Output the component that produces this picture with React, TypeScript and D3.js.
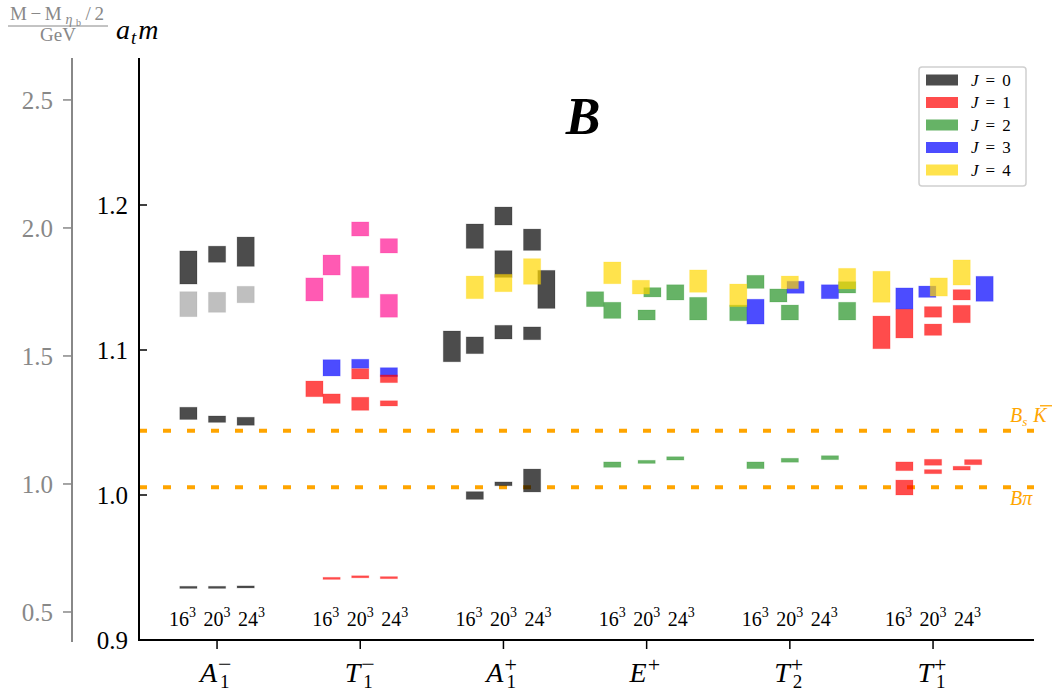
import React from 'react';
import * as d3 from 'd3';

const width = 1061;
const height = 691;

// categories (irreps) along the x axis
const irreps = [
  { base: 'A', sub: '1', sup: '\u2212' },
  { base: 'T', sub: '1', sup: '\u2212' },
  { base: 'A', sub: '1', sup: '+' },
  { base: 'E', sub: '', sup: '+' },
  { base: 'T', sub: '2', sup: '+' },
  { base: 'T', sub: '1', sup: '+' },
];
const volumeLabel = ['16', '20', '24'];

// bars: [irrep index, x offset, low a_t m, high a_t m]
const j0Bars = [
  [0, -0.2, 1.1455, 1.1683], [0, 0, 1.1605, 1.1716], [0, 0.2, 1.1577, 1.1779],
  [0, -0.2, 1.0521, 1.0605], [0, 0, 1.0501, 1.0545], [0, 0.2, 1.0481, 1.0536],
  [0, -0.2, 0.9356, 0.937], [0, 0, 0.9356, 0.937], [0, 0.2, 0.9359, 0.9373],
  [2, -0.2, 1.1701, 1.1869], [2, 0, 1.1862, 1.1986], [2, 0.2, 1.1687, 1.1834],
  [2, 0, 1.1501, 1.1685], [2, 0.3, 1.1287, 1.1549],
  [2, -0.36, 1.0919, 1.1131], [2, -0.2, 1.0975, 1.109], [2, 0, 1.1076, 1.117], [2, 0.2, 1.1071, 1.1159],
  [2, -0.2, 0.997, 1.0023], [2, 0, 1.0064, 1.009], [2, 0.2, 1.0021, 1.0179],
];
const greyBars = [
  [0, -0.2, 1.123, 1.1402], [0, 0, 1.126, 1.1398], [0, 0.2, 1.1326, 1.1439],
];
const pinkBars = [
  [1, -0.32, 1.1338, 1.1497], [1, -0.2, 1.1517, 1.1655], [1, 0, 1.1361, 1.1577],
  [1, 0, 1.1786, 1.1883], [1, 0.2, 1.1669, 1.1768], [1, 0.2, 1.1226, 1.1384],
];
const j1Bars = [
  [1, -0.32, 1.0678, 1.0786], [1, -0.2, 1.0632, 1.0697], [1, 0, 1.08, 1.0871],
  [1, 0, 1.0584, 1.0674], [1, 0.2, 1.0775, 1.0828], [1, 0.2, 1.0614, 1.065],
  [1, -0.2, 0.9418, 0.9432], [1, 0, 0.9429, 0.9443], [1, 0.2, 0.9423, 0.9437],
  [5, -0.36, 1.1009, 1.1234], [5, -0.2, 1.1083, 1.1281], [5, 0, 1.1226, 1.1299],
  [5, 0, 1.1101, 1.1179], [5, 0.2, 1.1345, 1.1416], [5, 0.2, 1.1188, 1.1308],
  [5, -0.2, 1.0168, 1.0228], [5, -0.2, 1.0, 1.0103], [5, 0, 1.0205, 1.0246],
  [5, 0, 1.0147, 1.0175], [5, 0.2, 1.0172, 1.0198], [5, 0.28, 1.0209, 1.0244],
];
const j2Bars = [
  [3, -0.36, 1.1299, 1.1402], [3, -0.24, 1.1218, 1.1329], [3, 0.04, 1.1366, 1.143],
  [3, 0, 1.1207, 1.1276], [3, 0.2, 1.1345, 1.145], [3, 0.36, 1.1207, 1.1363],
  [3, -0.24, 1.0191, 1.0228], [3, 0, 1.0218, 1.0239], [3, 0.2, 1.0241, 1.0264],
  [4, -0.36, 1.1202, 1.131], [4, -0.24, 1.1425, 1.1515], [4, -0.08, 1.1331, 1.1421],
  [4, 0, 1.1207, 1.131], [4, 0.4, 1.1393, 1.1471], [4, 0.4, 1.1207, 1.1329],
  [4, -0.24, 1.0182, 1.0228], [4, 0, 1.0226, 1.0253], [4, 0.28, 1.0244, 1.0271],
];
const j3Bars = [
  [1, -0.2, 1.0821, 1.0933], [1, 0, 1.0874, 1.0936], [1, 0.2, 1.0816, 1.0878],
  [4, -0.24, 1.1179, 1.135], [4, 0.04, 1.1391, 1.1474], [4, 0.28, 1.1354, 1.145],
  [5, -0.2, 1.1281, 1.1428], [5, -0.04, 1.1363, 1.1441], [5, 0.36, 1.1336, 1.1508],
];
const j4Bars = [
  [2, -0.2, 1.1354, 1.151], [2, 0, 1.1402, 1.1522], [2, 0.2, 1.1453, 1.163],
  [3, -0.24, 1.1457, 1.1607], [3, -0.04, 1.1386, 1.1481], [3, 0.36, 1.1398, 1.1552],
  [4, -0.36, 1.1299, 1.1455], [4, 0, 1.1423, 1.151], [4, 0.4, 1.1421, 1.1563],
  [5, -0.36, 1.1329, 1.1543], [5, 0.04, 1.1372, 1.1497], [5, 0.2, 1.1448, 1.1621],
];

const thresholds = [
  { name: 'BsK', value: 1.0443 },
  { name: 'Bpi', value: 1.0053 },
];

const rightTicks = [0.9, 1.0, 1.1, 1.2];
const greyTicks = [0.5, 1.0, 1.5, 2.0, 2.5];
const legendLabels = ['0', '1', '2', '3', '4'];

const series = [
  { bars: greyBars, color: '#808080', opacity: 0.5 },
  { bars: j0Bars, color: '#000000', opacity: 0.7 },
  { bars: pinkBars, color: '#ff1493', opacity: 0.7 },
  { bars: j2Bars, color: '#008000', opacity: 0.6 },
  { bars: j3Bars, color: '#0000ff', opacity: 0.7 },
  { bars: j1Bars, color: '#ff0000', opacity: 0.7 },
  { bars: j4Bars, color: '#ffd700', opacity: 0.7 },
];
const legendColors = [
  { color: '#000000', opacity: 0.7 },
  { color: '#ff0000', opacity: 0.7 },
  { color: '#008000', opacity: 0.6 },
  { color: '#0000ff', opacity: 0.7 },
  { color: '#ffd700', opacity: 0.7 },
];

const left = 139, right = 1034, top = 60, bottom = 640;
const serif = "'Liberation Serif', 'DejaVu Serif', serif";
const barWidth = 0.12;

export default function App() {
  const x = d3.scaleLinear().domain([-0.545, 5.705]).range([left, right]);
  const y = d3.scaleLinear().domain([0.9, 1.3]).range([bottom, top]);
  const yGev = d3.scaleLinear().domain([0.3906, 2.656]).range([bottom, top]);
  const bw = x(barWidth) - x(0);
  const yBsK = y(thresholds[0].value);
  const yBpi = y(thresholds[1].value);

  return (
    <svg width={width} height={height} style={{ position: 'absolute', left: 0, top: 0, fontFamily: serif }}>
      <rect width={width} height={height} fill="#fff" />

      {/* top-left axis label */}
      <g fill="#888">
        <text x={10} y={20} fontSize={19} textLength={94} lengthAdjust="spacing">
          M{'\u2212'}M<tspan fontStyle="italic" fontSize={14} dy={4}>{'\u03b7'}</tspan>
          <tspan fontSize={10} dy={2}>b</tspan>
          <tspan dy={-6} dx={1}>/2</tspan>
        </text>
        <line x1={8} x2={108} y1={26} y2={26} stroke="#888" strokeWidth={1} />
        <text x={58} y={41} fontSize={19} textAnchor="middle">GeV</text>
      </g>
      <text x={116} y={39} fontSize={28} fontStyle="italic">
        a<tspan fontSize={19} dy={5} dx={1}>t</tspan><tspan dy={-5} dx={2}>m</tspan>
      </text>

      {/* secondary GeV axis */}
      <line x1={72} x2={72} y1={top - 2} y2={bottom + 2} stroke="#888" strokeWidth={2} />
      {greyTicks.map(t => (
        <g key={t} transform={`translate(72, ${yGev(t)})`}>
          <line x1={-9} x2={0} stroke="#888" strokeWidth={1.5} />
          <text x={-19} dy="0.35em" fontSize={25} fill="#888" textAnchor="end">{t.toFixed(1)}</text>
        </g>
      ))}

      {/* thresholds */}
      {thresholds.map(t => (
        <line key={t.name} x1={left} x2={right} y1={y(t.value)} y2={y(t.value)}
          stroke="#ffa500" strokeWidth={4} strokeDasharray="8 16" />
      ))}
      <g fill="#ffa500" fontSize={20} fontStyle="italic">
        <text x={1010} y={yBsK - 9}>
          B<tspan fontSize={13} dy={4}>s</tspan><tspan dy={-4} dx={6}>K</tspan>
        </text>
        <line x1={1040} x2={1052} y1={yBsK - 25} y2={yBsK - 25} stroke="#ffa500" strokeWidth={1.3} />
        <text x={1010} y={yBpi + 18}>B{'\u03c0'}</text>
      </g>

      {/* bars */}
      {series.map((s, si) => (
        <g key={si}>
          {s.bars.map((b, i) => {
            const cx = x(b[0] + b[1]);
            return (
              <rect key={i} x={cx - bw / 2} y={y(b[3])} width={bw}
                height={Math.max(1.5, y(b[2]) - y(b[3]))}
                fill={s.color} fillOpacity={s.opacity}
                stroke={s.color} strokeOpacity={s.opacity * 0.25} strokeWidth={1} />
            );
          })}
        </g>
      ))}

      {/* title */}
      <text x={583} y={134} fontSize={52} fontWeight="bold" fontStyle="italic" textAnchor="middle">B</text>

      {/* volume labels */}
      {irreps.map((d, i) => (
        <g key={i}>
          {volumeLabel.map((v, k) => (
            <text key={k} x={x(i + (k - 1) * 0.241)} y={626} fontSize={20} textAnchor="middle">
              {v}<tspan fontSize={14} dy={-9}>3</tspan>
            </text>
          ))}
        </g>
      ))}

      {/* axes */}
      <line x1={left} x2={left} y1={top - 2} y2={bottom} stroke="#000" strokeWidth={2} />
      <line x1={left - 1} x2={right} y1={bottom} y2={bottom} stroke="#000" strokeWidth={2} />
      {rightTicks.map(t => (
        <g key={t} transform={`translate(${left}, ${y(t)})`}>
          <line x1={0} x2={8} stroke="#000" strokeWidth={1.5} />
          <text x={-11} dy="0.35em" fontSize={25} textAnchor="end">{t.toFixed(1)}</text>
        </g>
      ))}
      {irreps.map((d, i) => {
        const baseW = (d.base === 'T' ? 0.556 : 0.611) * 28;
        const supSize = d.sup === '+' ? 22 : 24;
        const supW = 0.564 * supSize;
        return (
          <g key={i} transform={`translate(${x(i)}, ${bottom})`}>
            <line y1={0} y2={9} stroke="#000" strokeWidth={1.5} />
            <text x={-baseW} y={42} fontSize={28}>
              <tspan fontStyle="italic">{d.base}</tspan>
              <tspan fontSize={supSize} dx={1} dy={-10}>{d.sup}</tspan>
              {d.sub && <tspan fontSize={19} dx={-supW + 2} dy={16}>{d.sub}</tspan>}
            </text>
          </g>
        );
      })}

      {/* legend */}
      <rect x={919} y={67} width={107} height={119} rx={3} fill="#fff" stroke="#d0d0d0" strokeWidth={1.5} />
      {legendLabels.map((l, i) => (
        <g key={l} transform={`translate(926, ${80 + i * 22.5})`}>
          <rect x={0} y={-5.5} width={32} height={11} fill={legendColors[i].color} fillOpacity={legendColors[i].opacity} />
          <text x={45} dy="0.35em" fontSize={17}>
            <tspan fontStyle="italic">J</tspan>
            <tspan dx={7}>=</tspan>
            <tspan dx={7}>{l}</tspan>
          </text>
        </g>
      ))}
    </svg>
  );
}
